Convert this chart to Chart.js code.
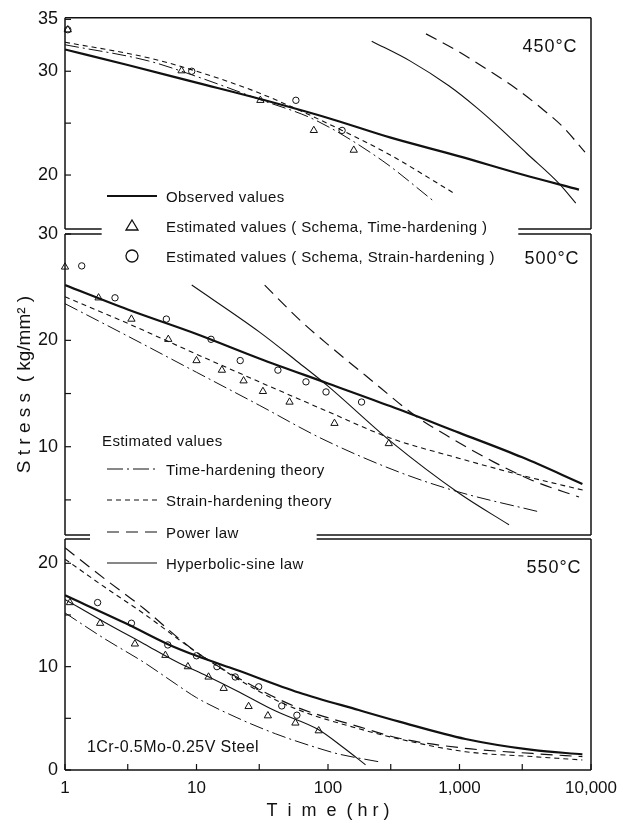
<!DOCTYPE html>
<html>
<head>
<meta charset="utf-8">
<script src="https://cdn.jsdelivr.net/npm/chart.js@4.4.1/dist/chart.umd.min.js"></script>
<style>
  body{margin:0;background:#fff;}
  #wrap{position:relative;width:636px;height:825px;background:#fff;font-family:'Liberation Sans',Arial,sans-serif;color:#111;}
  #wrap canvas{position:absolute;left:0;top:0;}
  #leg{position:absolute;left:0;top:0;}
  .lab{position:absolute;white-space:nowrap;transform:translateY(-50%);font-size:15px;letter-spacing:0.4px;}
  .temp{position:absolute;white-space:nowrap;transform:translate(-50%,-50%);font-size:18px;letter-spacing:1px;}
</style>
</head>
<body>
<div id="wrap">
  <canvas id="c450" width="636" height="825"></canvas>
  <canvas id="c500" width="636" height="825"></canvas>
  <canvas id="c550" width="636" height="825"></canvas>
  <svg id="leg" width="636" height="825">
    <line x1="107" y1="196" x2="157" y2="196" stroke="#111" stroke-width="2.2"/>
    <path d="M132 220 L138 230 L126 230 Z" fill="none" stroke="#111" stroke-width="1.3"/>
    <circle cx="132" cy="256" r="6" fill="none" stroke="#111" stroke-width="1.3"/>
    <line x1="107" y1="469" x2="157" y2="469" stroke="#111" stroke-width="1" stroke-dasharray="16 4 2 4"/>
    <line x1="107" y1="500" x2="157" y2="500" stroke="#111" stroke-width="1.1" stroke-dasharray="5 4"/>
    <line x1="107" y1="532" x2="157" y2="532" stroke="#111" stroke-width="1.2" stroke-dasharray="12 7"/>
    <line x1="107" y1="563" x2="157" y2="563" stroke="#111" stroke-width="1.1"/>
  </svg>
  <div class="lab" style="left:166px;top:196px">Observed values</div>
  <div class="lab" style="left:166px;top:226px">Estimated values ( Schema, Time-hardening )</div>
  <div class="lab" style="left:166px;top:256px">Estimated values ( Schema, Strain-hardening )</div>
  <div class="lab" style="left:102px;top:440px">Estimated values</div>
  <div class="lab" style="left:166px;top:469px">Time-hardening theory</div>
  <div class="lab" style="left:166px;top:500px">Strain-hardening theory</div>
  <div class="lab" style="left:166px;top:532px">Power law</div>
  <div class="lab" style="left:166px;top:563px">Hyperbolic-sine law</div>
  <div class="lab" style="left:87px;top:747px;font-size:16px">1Cr-0.5Mo-0.25V Steel</div>
  <div class="temp" style="left:550px;top:46px">450°C</div>
  <div class="temp" style="left:552px;top:258px">500°C</div>
  <div class="temp" style="left:554px;top:567px">550°C</div>
</div>
<script>
// time axis
const xTicks = [1, 3, 10, 30, 100, 300, 1000, 3000, 10000];
const xTickText = ['1', '', '10', '', '100', '', '1,000', '', '10,000'];

// 450 C
const y450Ticks = [20, 25, 30, 35];
const y450Text = ['20', '', '30', '35'];
const t450Obs = [1, 3, 10, 30, 100, 300, 1000, 3000, 8100];
const s450Obs = [32.1, 30.6, 28.9, 27.35, 25.5, 23.6, 21.8, 20.05, 18.6];
const t450TH = [1, 4.3, 10, 30, 80, 258, 620];
const s450TH = [32.55, 31.0, 29.5, 27.3, 25.3, 21.4, 17.6];
const t450SH = [1, 4.3, 10, 30, 128, 300, 908];
const s450SH = [32.8, 31.3, 30.0, 27.9, 24.3, 21.9, 18.25];
const t450PW = [556, 952, 1610, 2720, 4090, 6160, 9000];
const s450PW = [33.6, 32.0, 30.2, 28.3, 26.55, 24.6, 22.2];
const t450HS = [215, 420, 830, 1350, 2000, 3240, 5700, 7660];
const s450HS = [32.9, 31.0, 28.6, 26.5, 24.6, 22.1, 19.2, 17.3];
const t450Tri = [1.05, 7.7, 30.6, 78, 157];
const s450Tri = [34, 30.05, 27.2, 24.3, 22.4];
const t450Cir = [1.05, 9.2, 57, 128];
const s450Cir = [34, 30.0, 27.2, 24.3];

// 500 C
const y500Ticks = [5, 10, 15, 20, 30];
const y500Text = ['', '10', '', '20', '30'];
const t500Obs = [1, 3, 10, 30, 100, 300, 1000, 3000, 8600];
const s500Obs = [25.2, 22.9, 20.6, 18.3, 15.95, 13.8, 11.3, 9.0, 6.5];
const t500TH = [1, 3, 10, 30, 90, 346, 990, 3900];
const s500TH = [23.45, 20.4, 17.0, 13.9, 10.75, 7.62, 5.74, 3.92];
const t500SH = [1, 3, 10, 30, 100, 300, 1000, 3000, 8800];
const s500SH = [24.1, 21.6, 18.7, 16.1, 13.3, 10.8, 8.9, 7.3, 5.9];
const t500PW = [33, 60, 100, 193, 463, 880, 1800, 3580, 8100];
const s500PW = [25.2, 22.0, 19.6, 16.7, 12.9, 10.75, 8.6, 6.83, 5.27];
const t500HS = [9.2, 30, 60, 100, 300, 1000, 2380];
const s500HS = [25.2, 20.8, 17.9, 15.7, 10.5, 5.6, 2.66];
const t500Tri = [1, 1.8, 3.2, 6.1, 10, 15.6, 22.8, 32, 51, 112, 290];
const s500Tri = [26.9, 24, 22, 20.1, 18.1, 17.2, 16.2, 15.2, 14.2, 12.2, 10.3];
const t500Cir = [1.34, 2.4, 5.9, 12.9, 21.5, 41.6, 68, 96.6, 180];
const s500Cir = [27, 24, 22, 20.1, 18.1, 17.2, 16.1, 15.15, 14.2];

// 550 C
const y550Ticks = [0, 5, 10, 15, 20];
const y550Text = ['0', '', '10', '', '20'];
const t550Obs = [1, 3, 6, 10, 20, 60, 171, 348, 1110, 3580, 8600];
const s550Obs = [16.9, 14.1, 12.2, 11.05, 9.7, 7.5, 5.8, 4.68, 3.0, 1.94, 1.52];
const t550TH = [1, 2, 4, 7, 10, 20, 40, 80, 120, 243];
const s550TH = [15.2, 12.7, 10.4, 8.3, 7.0, 5.1, 3.5, 2.2, 1.55, 0.8];
const t550SH = [1, 2, 4, 10, 30, 60, 171, 348, 1110, 3580, 8600];
const s550SH = [20.4, 17.7, 15.1, 11.4, 7.6, 5.8, 4.0, 3.0, 1.77, 1.3, 0.97];
const t550PW = [1, 2, 4, 7.3, 10, 30, 60, 171, 348, 1110, 3580, 8600];
const s550PW = [21.5, 18.5, 15.6, 12.75, 11.4, 7.8, 6.0, 4.2, 3.07, 2.1, 1.6, 1.29];
const t550HS = [1, 2, 4, 7, 12, 20, 40, 85, 130, 193];
const s550HS = [16.5, 14.3, 12.2, 10.5, 9.1, 7.7, 5.7, 3.9, 2.2, 0.5];
const t550Tri = [1.09, 1.85, 3.4, 5.8, 8.6, 12.35, 16.1, 24.9, 34.9, 56.5, 85];
const s550Tri = [16.2, 14.2, 12.2, 11.1, 10.0, 9.0, 7.9, 6.15, 5.25, 4.55, 3.8];
const t550Cir = [1.77, 3.2, 6.05, 10, 14.3, 19.7, 29.7, 44.5, 58];
const s550Cir = [16.2, 14.2, 12.1, 11.05, 10.0, 9.0, 8.05, 6.2, 5.3];

Chart.defaults.font.family = "'Liberation Sans', Arial, sans-serif";
Chart.defaults.color = '#111';

const INK = '#111';
const OBS = {borderWidth: 2.2};
const TH = {borderWidth: 1, borderDash: [14, 4, 2, 4]};
const SH = {borderWidth: 1.1, borderDash: [5, 4]};
const PW = {borderWidth: 1.2, borderDash: [12, 7]};
const HS = {borderWidth: 1.1};

function pts(ts, ss){
    return ts.map(function (t, i){ return {x: t, y: ss[i]}; });
}

function curve(ts, ss, style){
    return Object.assign({
        data: pts(ts, ss),
        borderColor: INK,
        pointRadius: 0,
        fill: false,
        cubicInterpolationMode: 'monotone'
    }, style);
}

function marks(ts, ss, shape){
    return {
        data: pts(ts, ss),
        showLine: false,
        pointStyle: shape,
        pointRadius: shape == 'triangle' ? 4.2 : 3.2,
        pointBorderWidth: 1,
        pointBorderColor: INK,
        pointBackgroundColor: 'rgba(0,0,0,0)',
        borderColor: INK,
        clip: false
    };
}

// box round each panel, with the broken edges and inward ticks
const framePlugin = {
    id: 'frame',
    afterDraw(chart, args, opts){
        const ctx = chart.ctx, a = chart.chartArea, x = chart.scales.x, y = chart.scales.y;
        ctx.save();
        ctx.strokeStyle = INK;
        ctx.lineWidth = 1.5;
        function seg(x1, y1, x2, y2){
            ctx.beginPath(); ctx.moveTo(x1, y1); ctx.lineTo(x2, y2); ctx.stroke();
        }
        function edge(py, gap){
            if(!gap){ seg(a.left, py, a.right, py); return; }
            seg(a.left, py, x.getPixelForValue(gap[0]), py);
            seg(x.getPixelForValue(gap[1]), py, a.right, py);
        }
        seg(a.left, a.top, a.left, a.bottom);
        seg(a.right, a.top, a.right, a.bottom);
        edge(a.top, opts.topGap);
        edge(a.bottom, opts.bottomGap);
        ctx.lineWidth = 1.2;
        y.ticks.forEach(function (tk){
            const py = y.getPixelForValue(tk.value);
            seg(a.left, py, a.left + 6, py);
        });
        if(opts.xTicks){
            x.ticks.forEach(function (tk){
                const px = x.getPixelForValue(tk.value);
                seg(px, a.bottom, px, a.bottom - 6);
            });
        }
        ctx.restore();
    }
};

function panel(id, box, yMin, yMax, yTicks, yText, datasets, frame, extra){
    extra = extra || {};
    const config = {
        type: 'line',
        data: {datasets: datasets},
        options: {
            responsive: false,
            animation: false,
            layout: {padding: {top: box.top, bottom: box.bottom, left: 0, right: 45}},
            plugins: {legend: {display: false}, tooltip: {enabled: false}, frame: frame},
            scales: {
                x: {
                    type: 'logarithmic',
                    min: 1,
                    max: 10000,
                    display: !!extra.showX,
                    border: {display: false},
                    grid: {display: false, drawTicks: false},
                    afterBuildTicks: function (scale){
                        scale.ticks = xTicks.map(function (v){ return {value: v}; });
                    },
                    afterFit: function (scale){ if(extra.showX) scale.height = 55; },
                    ticks: {
                        autoSkip: false,
                        maxRotation: 0,
                        padding: 8,
                        font: {size: 17},
                        callback: function (v, i){ return xTickText[i]; }
                    },
                    title: {
                        display: !!extra.showX,
                        text: 'T  i  m  e  ( h r )',
                        font: {size: 18},
                        padding: {top: 0, bottom: 3}
                    }
                },
                y: {
                    min: yMin,
                    max: yMax,
                    border: {display: false},
                    grid: {display: false, drawTicks: false},
                    afterBuildTicks: function (scale){
                        scale.ticks = yTicks.map(function (v){ return {value: v}; });
                    },
                    afterFit: function (scale){ scale.width = 65; },
                    ticks: {
                        padding: 7,
                        font: {size: 18},
                        callback: function (v, i){ return yText[i]; }
                    },
                    title: {
                        display: !!extra.yTitle,
                        text: extra.yTitle || '',
                        font: {size: 19},
                        padding: {top: 13, bottom: 0}
                    }
                }
            }
        },
        plugins: [framePlugin]
    };
    return new Chart(document.getElementById(id), config);
}

panel('c450', {top: 17, bottom: 825 - 229}, 14.8, 35.15, y450Ticks, y450Text, [
    curve(t450Obs, s450Obs, OBS),
    curve(t450TH, s450TH, TH),
    curve(t450SH, s450SH, SH),
    curve(t450PW, s450PW, PW),
    curve(t450HS, s450HS, HS),
    marks(t450Tri, s450Tri, 'triangle'),
    marks(t450Cir, s450Cir, 'circle')
], {bottomGap: [1.9, 2800]});

panel('c500', {top: 234, bottom: 825 - 535}, 1.7, 30, y500Ticks, y500Text, [
    curve(t500Obs, s500Obs, OBS),
    curve(t500TH, s500TH, TH),
    curve(t500SH, s500SH, SH),
    curve(t500PW, s500PW, PW),
    curve(t500HS, s500HS, HS),
    marks(t500Tri, s500Tri, 'triangle'),
    marks(t500Cir, s500Cir, 'circle')
], {topGap: [1.9, 2800], bottomGap: [1.55, 82]}, {yTitle: 'S t r e s s  ( kg/mm² )'});

panel('c550', {top: 539, bottom: 0}, 0, 22.35, y550Ticks, y550Text, [
    curve(t550Obs, s550Obs, OBS),
    curve(t550TH, s550TH, TH),
    curve(t550SH, s550SH, SH),
    curve(t550PW, s550PW, PW),
    curve(t550HS, s550HS, HS),
    marks(t550Tri, s550Tri, 'triangle'),
    marks(t550Cir, s550Cir, 'circle')
], {topGap: [1.55, 82], xTicks: true}, {showX: true});
</script>
</body>
</html>
